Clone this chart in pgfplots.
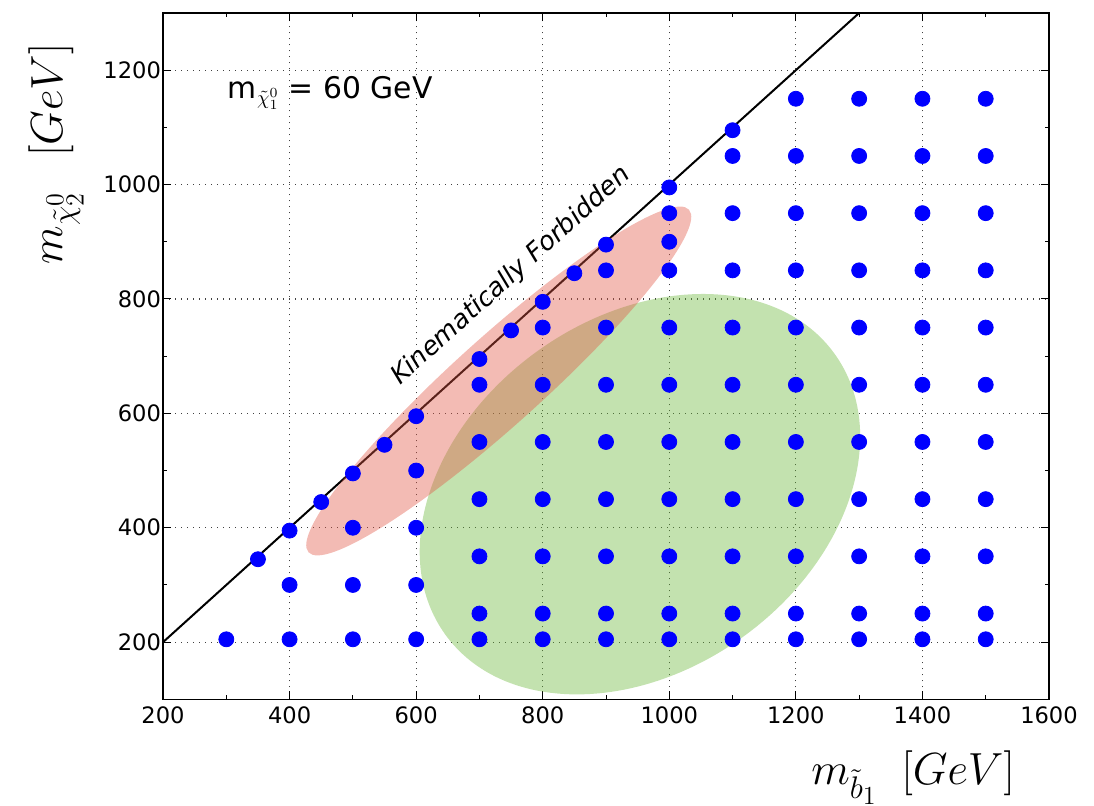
\documentclass[border=0pt]{standalone}
\usepackage{graphicx}
\usepackage{pgfplots}
\pgfplotsset{compat=1.18}
\usepackage{fontspec}
\setmainfont{DejaVu Sans}
\definecolor{ptblue}{RGB}{0,0,255}
\definecolor{elgreen}{RGB}{105,182,55}
\definecolor{elred}{RGB}{225,85,68}
\begin{document}
\begin{tikzpicture}
\begin{axis}[
  scale only axis, width=443pt, height=343.2pt,
  xmin=200, xmax=1600, ymin=100, ymax=1300,
  xtick={200,400,...,1600}, ytick={200,400,...,1200},
  minor tick num=1,
  tick align=inside,
  major tick length=4pt, minor tick length=2pt,
  every tick/.style={black, line width=0.5pt},
  axis line style={line width=0.75pt},
  grid=major,
  major grid style={black!75, line width=0.6pt, dash pattern=on 0.6pt off 2.4pt},
  /pgf/number format/assume math mode=true,
  /pgf/number format/1000 sep={},
  tick label style={font=\fontsize{11.3}{13}\selectfont},
  yticklabel style={xshift=2.5pt},
  xlabel={\scalebox{1.085}{$m_{\tilde{b}_1}$\hspace{11pt}$[GeV]$}},
  ylabel={\scalebox{1.085}{$m_{\tilde{\chi}_2^0}$\hspace{16pt}$[GeV]$}},
  label style={font=\fontsize{20.74}{24}\selectfont},
  xlabel style={at={(rel axis cs:0.8465,-0.1247)}, anchor=base},
  ylabel style={at={(rel axis cs:-0.114,0.7946)}, anchor=base},
]
\addplot[only marks, mark=*, mark size=3.75pt, color=ptblue, mark options={fill=ptblue, draw=ptblue}] coordinates {
(300,205)
(350,345)
(400,205)(400,300)(400,395)
(450,445)
(500,205)(500,300)(500,400)(500,495)
(550,545)
(600,205)(600,300)(600,400)(600,500)(600,595)
(700,205)(700,250)(700,350)(700,450)(700,550)(700,650)(700,695)
(750,745)
(800,205)(800,250)(800,350)(800,450)(800,550)(800,650)(800,750)(800,795)
(850,845)
(900,205)(900,250)(900,350)(900,450)(900,550)(900,650)(900,750)(900,850)(900,895)
(1000,205)(1000,250)(1000,350)(1000,450)(1000,550)(1000,650)(1000,750)(1000,850)(1000,900)(1000,950)(1000,995)
(1100,205)(1100,250)(1100,350)(1100,450)(1100,550)(1100,650)(1100,750)(1100,850)(1100,950)(1100,1050)(1100,1095)
(1200,205)(1200,250)(1200,350)(1200,450)(1200,550)(1200,650)(1200,750)(1200,850)(1200,950)(1200,1050)(1200,1150)
(1300,205)(1300,250)(1300,350)(1300,450)(1300,550)(1300,650)(1300,750)(1300,850)(1300,950)(1300,1050)(1300,1150)
(1400,205)(1400,250)(1400,350)(1400,450)(1400,550)(1400,650)(1400,750)(1400,850)(1400,950)(1400,1050)(1400,1150)
(1500,205)(1500,250)(1500,350)(1500,450)(1500,550)(1500,650)(1500,750)(1500,850)(1500,950)(1500,1050)(1500,1150)
};
\addplot[black, line width=1pt] coordinates {(200,200)(1300,1300)};
\fill[elgreen, fill opacity=0.4, rotate around={35.8:(axis cs:953.6,458.7)}]
  (axis cs:953.6,458.7) ellipse [x radius=120pt, y radius=88pt];
\fill[elred, fill opacity=0.4, rotate around={42:(axis cs:730.5,656.6)}]
  (axis cs:730.5,656.6) ellipse [x radius=128pt, y radius=22pt];
\node[anchor=base west, font=\fontsize{14.9}{18}\selectfont, inner sep=0pt] at (axis cs:302,1150.5) {m$_{\tilde{\chi}_1^0}$ = 60 GeV};
\node[rotate=42.1, font=\fontsize{12.9}{15}\selectfont\itshape, inner sep=0pt] at (axis cs:750,840) {Kinematically Forbidden};
\coordinate (bbsw) at (rel axis cs:-0.184,-0.1553);
\coordinate (bbne) at (rel axis cs:1.0508,1.0189);
\end{axis}
\pgfresetboundingbox
\useasboundingbox (bbsw) rectangle (bbne);
\end{tikzpicture}
\end{document}
